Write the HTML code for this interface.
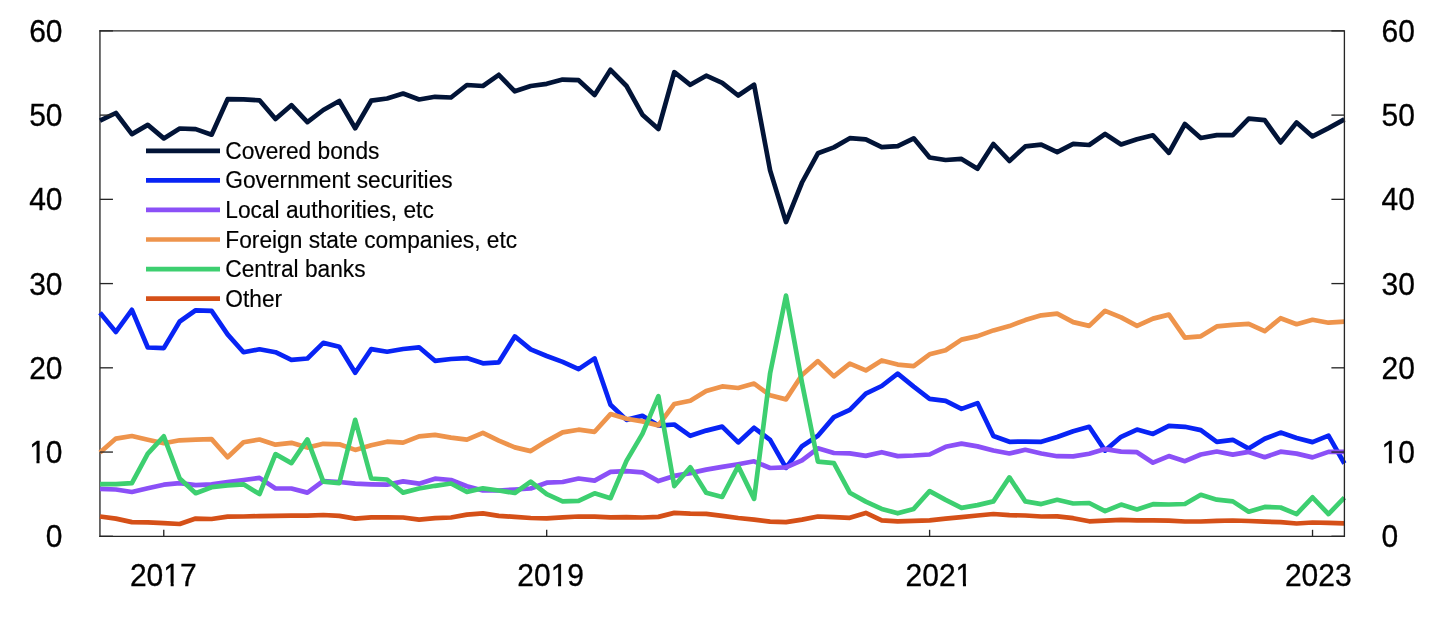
<!DOCTYPE html>
<html><head><meta charset="utf-8"><title>Chart</title>
<style>
html,body{margin:0;padding:0;background:#fff;}
svg{display:block;}
text{font-family:"Liberation Sans",Arial,sans-serif;fill:#000;stroke:#000;stroke-width:0.15px;}
.ax{font-size:30px;stroke-width:0.3px;}
.lg{font-size:22.6px;}
</style></head><body>
<svg width="1445" height="636" viewBox="0 0 1445 636">
<rect width="1445" height="636" fill="#fff"/>
<line x1="99.95" y1="30.21" x2="99.95" y2="536.96" stroke="#262626" stroke-width="1.33"/>
<g fill="none" stroke-width="4.7" stroke-linejoin="round" stroke-linecap="butt">
<polyline stroke="#021437" points="100.0,120.6 115.9,113.0 131.9,134.1 147.8,124.9 163.8,138.4 179.7,128.5 195.7,129.1 211.6,134.7 227.6,99.2 243.5,99.4 259.5,100.3 275.5,119.0 291.4,105.2 307.4,122.1 323.3,110.0 339.3,101.0 355.2,128.2 371.2,100.7 387.1,98.5 403.1,93.5 419.1,99.5 435.0,96.8 451.0,97.5 466.9,85.0 482.9,86.0 498.8,74.8 514.8,91.3 530.7,86.0 546.7,83.8 562.6,79.6 578.6,80.2 594.6,95.0 610.5,69.8 626.5,86.0 642.4,114.7 658.4,129.0 674.3,72.2 690.3,84.8 706.2,75.7 722.2,82.8 738.2,95.5 754.1,84.8 770.1,170.4 786.0,222.1 802.0,182.5 817.9,153.3 833.9,147.4 849.8,138.2 865.8,139.3 881.7,147.2 897.7,146.1 913.7,138.3 929.6,157.5 945.6,160.0 961.5,158.9 977.5,168.8 993.4,144.0 1009.4,160.9 1025.3,146.4 1041.3,144.6 1057.2,152.2 1073.2,143.9 1089.2,145.0 1105.1,134.0 1121.1,144.5 1137.0,139.2 1153.0,135.3 1168.9,152.8 1184.9,124.0 1200.8,138.0 1216.8,135.1 1232.8,135.2 1248.7,118.6 1264.7,120.2 1280.6,142.4 1296.6,122.5 1312.5,136.4 1328.5,128.1 1344.4,119.4"/>
<polyline stroke="#0824F5" points="100.0,312.8 115.9,331.9 131.9,309.8 147.8,347.5 163.8,348.1 179.7,321.5 195.7,310.3 211.6,310.9 227.6,334.4 243.5,352.2 259.5,349.3 275.5,352.2 291.4,359.9 307.4,358.5 323.3,342.9 339.3,346.8 355.2,372.8 371.2,349.1 387.1,351.7 403.1,349.0 419.1,347.3 435.0,360.8 451.0,359.0 466.9,358.1 482.9,363.3 498.8,362.3 514.8,336.4 530.7,349.4 546.7,356.0 562.6,361.9 578.6,369.1 594.6,358.4 610.5,404.8 626.5,419.9 642.4,415.8 658.4,425.6 674.3,424.5 690.3,435.8 706.2,430.6 722.2,426.6 738.2,442.4 754.1,427.8 770.1,439.9 786.0,467.9 802.0,446.2 817.9,435.8 833.9,417.1 849.8,409.8 865.8,393.6 881.7,386.0 897.7,373.6 913.7,386.6 929.6,398.8 945.6,400.8 961.5,408.9 977.5,403.1 993.4,436.0 1009.4,441.8 1025.3,441.6 1041.3,441.8 1057.2,437.0 1073.2,431.2 1089.2,426.8 1105.1,450.6 1121.1,436.8 1137.0,429.6 1153.0,433.9 1168.9,425.9 1184.9,426.8 1200.8,430.1 1216.8,441.9 1232.8,439.8 1248.7,448.6 1264.7,438.8 1280.6,432.6 1296.6,438.0 1312.5,442.1 1328.5,435.6 1344.4,463.5"/>
<polyline stroke="#8B50F7" points="100.0,488.9 115.9,489.5 131.9,492.0 147.8,488.3 163.8,484.7 179.7,483.1 195.7,485.1 211.6,484.3 227.6,482.0 243.5,480.0 259.5,477.9 275.5,488.5 291.4,488.5 307.4,492.6 323.3,481.0 339.3,482.0 355.2,483.7 371.2,484.3 387.1,484.7 403.1,481.4 419.1,483.7 435.0,478.7 451.0,480.0 466.9,486.2 482.9,490.5 498.8,490.5 514.8,489.5 530.7,488.5 546.7,482.7 562.6,482.0 578.6,478.5 594.6,480.6 610.5,471.9 626.5,471.2 642.4,472.3 658.4,481.1 674.3,475.9 690.3,473.1 706.2,469.6 722.2,466.9 738.2,464.2 754.1,461.3 770.1,468.0 786.0,467.3 802.0,460.3 817.9,448.3 833.9,453.0 849.8,453.4 865.8,455.9 881.7,452.2 897.7,456.1 913.7,455.5 929.6,454.5 945.6,446.8 961.5,443.6 977.5,446.4 993.4,450.5 1009.4,453.5 1025.3,449.8 1041.3,453.5 1057.2,456.2 1073.2,456.4 1089.2,453.7 1105.1,449.1 1121.1,451.6 1137.0,452.2 1153.0,462.7 1168.9,456.1 1184.9,461.2 1200.8,454.5 1216.8,451.5 1232.8,454.6 1248.7,451.9 1264.7,457.2 1280.6,451.7 1296.6,453.6 1312.5,457.4 1328.5,451.9 1344.4,451.9"/>
<polyline stroke="#EE944C" points="100.0,452.5 115.9,438.6 131.9,436.0 147.8,439.7 163.8,443.2 179.7,440.3 195.7,439.7 211.6,439.1 227.6,457.2 243.5,442.2 259.5,439.5 275.5,444.7 291.4,442.8 307.4,447.6 323.3,443.8 339.3,444.3 355.2,449.9 371.2,445.3 387.1,441.7 403.1,442.6 419.1,436.4 435.0,434.9 451.0,437.6 466.9,439.7 482.9,432.9 498.8,440.7 514.8,447.4 530.7,451.1 546.7,441.1 562.6,432.4 578.6,429.7 594.6,431.8 610.5,414.1 626.5,418.7 642.4,421.4 658.4,425.4 674.3,404.0 690.3,400.7 706.2,391.1 722.2,386.4 738.2,388.0 754.1,383.6 770.1,395.3 786.0,399.4 802.0,375.0 817.9,361.1 833.9,376.4 849.8,363.6 865.8,370.4 881.7,360.4 897.7,364.6 913.7,366.2 929.6,354.3 945.6,350.2 961.5,339.6 977.5,336.1 993.4,330.4 1009.4,326.1 1025.3,320.1 1041.3,315.3 1057.2,313.6 1073.2,322.1 1089.2,325.9 1105.1,310.8 1121.1,317.4 1137.0,325.9 1153.0,318.6 1168.9,314.6 1184.9,337.6 1200.8,336.3 1216.8,326.4 1232.8,324.8 1248.7,323.9 1264.7,331.2 1280.6,318.2 1296.6,324.2 1312.5,319.8 1328.5,322.7 1344.4,321.7"/>
<polyline stroke="#3DCF70" points="100.0,484.2 115.9,484.2 131.9,483.2 147.8,453.6 163.8,436.3 179.7,478.5 195.7,493.2 211.6,487.2 227.6,485.4 243.5,484.3 259.5,494.1 275.5,454.1 291.4,463.1 307.4,439.4 323.3,481.6 339.3,483.1 355.2,419.8 371.2,478.5 387.1,479.5 403.1,492.6 419.1,488.5 435.0,485.8 451.0,483.5 466.9,491.9 482.9,488.3 498.8,490.5 514.8,493.0 530.7,481.6 546.7,494.1 562.6,501.3 578.6,500.9 594.6,493.3 610.5,498.2 626.5,460.9 642.4,433.9 658.4,396.2 674.3,486.1 690.3,467.2 706.2,492.7 722.2,496.9 738.2,466.1 754.1,498.9 770.1,373.4 786.0,295.6 802.0,383.0 817.9,461.6 833.9,463.1 849.8,492.7 865.8,501.6 881.7,508.9 897.7,513.3 913.7,508.9 929.6,491.1 945.6,499.9 961.5,507.9 977.5,505.1 993.4,501.4 1009.4,477.4 1025.3,501.4 1041.3,504.1 1057.2,499.8 1073.2,503.5 1089.2,503.0 1105.1,511.2 1121.1,504.6 1137.0,509.4 1153.0,504.2 1168.9,504.5 1184.9,504.0 1200.8,494.8 1216.8,499.7 1232.8,501.4 1248.7,511.7 1264.7,506.9 1280.6,507.5 1296.6,514.1 1312.5,497.3 1328.5,514.1 1344.4,497.6"/>
<polyline stroke="#D55018" points="100.0,516.5 115.9,518.6 131.9,522.1 147.8,522.3 163.8,523.1 179.7,524.0 195.7,518.6 211.6,519.0 227.6,516.7 243.5,516.5 259.5,516.1 275.5,515.9 291.4,515.7 307.4,515.7 323.3,515.0 339.3,515.9 355.2,518.6 371.2,517.3 387.1,517.3 403.1,517.5 419.1,519.6 435.0,518.2 451.0,517.5 466.9,514.6 482.9,513.4 498.8,515.9 514.8,516.9 530.7,518.0 546.7,518.4 562.6,517.3 578.6,516.5 594.6,516.7 610.5,517.3 626.5,517.1 642.4,517.5 658.4,516.9 674.3,512.9 690.3,513.6 706.2,513.8 722.2,515.9 738.2,518.0 754.1,519.6 770.1,521.7 786.0,522.1 802.0,519.6 817.9,516.5 833.9,517.2 849.8,517.8 865.8,512.9 881.7,520.3 897.7,521.3 913.7,520.9 929.6,520.3 945.6,518.6 961.5,517.2 977.5,515.5 993.4,514.0 1009.4,515.1 1025.3,515.5 1041.3,516.5 1057.2,516.3 1073.2,518.2 1089.2,521.3 1105.1,520.7 1121.1,519.9 1137.0,520.3 1153.0,520.4 1168.9,520.7 1184.9,521.5 1200.8,521.5 1216.8,520.8 1232.8,520.5 1248.7,521.0 1264.7,521.7 1280.6,522.1 1296.6,523.5 1312.5,522.5 1328.5,522.9 1344.4,523.3"/>
</g>
<g stroke="#262626" stroke-width="1.33" fill="none">
<polyline points="99.29,30.87 1344.4,30.87 1344.4,536.3 99.29,536.3" stroke-linejoin="miter"/>
<line x1="99.95" y1="536.30" x2="112.95" y2="536.30"/><line x1="1331.4" y1="536.30" x2="1344.4" y2="536.30"/>
<line x1="99.95" y1="452.06" x2="112.95" y2="452.06"/><line x1="1331.4" y1="452.06" x2="1344.4" y2="452.06"/>
<line x1="99.95" y1="367.82" x2="112.95" y2="367.82"/><line x1="1331.4" y1="367.82" x2="1344.4" y2="367.82"/>
<line x1="99.95" y1="283.58" x2="112.95" y2="283.58"/><line x1="1331.4" y1="283.58" x2="1344.4" y2="283.58"/>
<line x1="99.95" y1="199.35" x2="112.95" y2="199.35"/><line x1="1331.4" y1="199.35" x2="1344.4" y2="199.35"/>
<line x1="99.95" y1="115.11" x2="112.95" y2="115.11"/><line x1="1331.4" y1="115.11" x2="1344.4" y2="115.11"/>
<line x1="99.95" y1="30.87" x2="112.95" y2="30.87"/><line x1="1331.4" y1="30.87" x2="1344.4" y2="30.87"/>
<line x1="163.77" y1="529.8" x2="163.77" y2="536.3"/>
<line x1="546.69" y1="529.8" x2="546.69" y2="536.3"/>
<line x1="929.61" y1="529.8" x2="929.61" y2="536.3"/>
<line x1="1312.53" y1="529.8" x2="1312.53" y2="536.3"/>
</g>
<text class="ax" transform="translate(62.5,547.35) scale(1,1.03)" text-anchor="end">0</text><text class="ax" transform="translate(1381.5,547.35) scale(1,1.03)">0</text>
<text class="ax" transform="translate(62.5,463.11) scale(1,1.03)" text-anchor="end">10</text><text class="ax" transform="translate(1381.5,463.11) scale(1,1.03)">10</text>
<text class="ax" transform="translate(62.5,378.87) scale(1,1.03)" text-anchor="end">20</text><text class="ax" transform="translate(1381.5,378.87) scale(1,1.03)">20</text>
<text class="ax" transform="translate(62.5,294.63) scale(1,1.03)" text-anchor="end">30</text><text class="ax" transform="translate(1381.5,294.63) scale(1,1.03)">30</text>
<text class="ax" transform="translate(62.5,210.40) scale(1,1.03)" text-anchor="end">40</text><text class="ax" transform="translate(1381.5,210.40) scale(1,1.03)">40</text>
<text class="ax" transform="translate(62.5,126.16) scale(1,1.03)" text-anchor="end">50</text><text class="ax" transform="translate(1381.5,126.16) scale(1,1.03)">50</text>
<text class="ax" transform="translate(62.5,41.92) scale(1,1.03)" text-anchor="end">60</text><text class="ax" transform="translate(1381.5,41.92) scale(1,1.03)">60</text>
<text class="ax" transform="translate(163.30,586) scale(1,1.03)" text-anchor="middle">2017</text>
<text class="ax" transform="translate(550.70,586) scale(1,1.03)" text-anchor="middle">2019</text>
<text class="ax" transform="translate(938.90,586) scale(1,1.03)" text-anchor="middle">2021</text>
<text class="ax" transform="translate(1318.30,586) scale(1,1.03)" text-anchor="middle">2023</text>
<rect x="30.53" y="459.91" width="5.95" height="4.2" fill="#fff"/><rect x="39.53" y="459.91" width="5.70" height="4.2" fill="#fff"/><rect x="1382.90" y="459.91" width="5.95" height="4.2" fill="#fff"/><rect x="1391.90" y="459.91" width="5.70" height="4.2" fill="#fff"/><rect x="164.70" y="582.80" width="5.95" height="4.2" fill="#fff"/><rect x="173.70" y="582.80" width="5.70" height="4.2" fill="#fff"/><rect x="552.10" y="582.80" width="5.95" height="4.2" fill="#fff"/><rect x="561.10" y="582.80" width="5.70" height="4.2" fill="#fff"/><rect x="956.98" y="582.80" width="5.95" height="4.2" fill="#fff"/><rect x="965.98" y="582.80" width="5.70" height="4.2" fill="#fff"/>
<g stroke-width="4.7" fill="none">
<line x1="146" y1="150.85" x2="220" y2="150.85" stroke="#021437"/>
<line x1="146" y1="180.40" x2="220" y2="180.40" stroke="#0824F5"/>
<line x1="146" y1="209.95" x2="220" y2="209.95" stroke="#8B50F7"/>
<line x1="146" y1="239.50" x2="220" y2="239.50" stroke="#EE944C"/>
<line x1="146" y1="269.05" x2="220" y2="269.05" stroke="#3DCF70"/>
<line x1="146" y1="298.60" x2="220" y2="298.60" stroke="#D55018"/>
</g>
<text class="lg" transform="translate(225.3,158.90) scale(1.006,1.03)">Covered bonds</text>
<text class="lg" transform="translate(225.3,188.45) scale(1.006,1.03)">Government securities</text>
<text class="lg" transform="translate(225.3,218.00) scale(1.006,1.03)">Local authorities, etc</text>
<text class="lg" transform="translate(225.3,247.55) scale(1.006,1.03)">Foreign state companies, etc</text>
<text class="lg" transform="translate(225.3,277.10) scale(1.006,1.03)">Central banks</text>
<text class="lg" transform="translate(225.3,306.65) scale(1.006,1.03)">Other</text>
</svg>
</body></html>
